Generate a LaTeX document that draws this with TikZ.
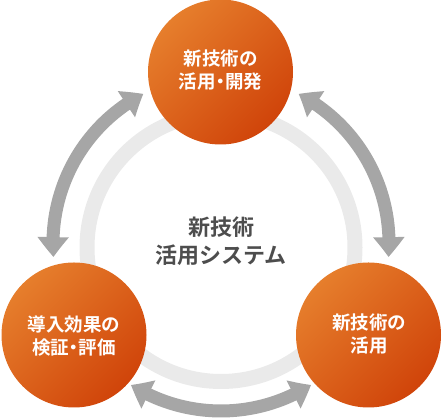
\documentclass[tikz,border=0pt]{standalone}
\usepackage{fontspec}
\newfontfamily\jp{Noto Sans CJK JP}[BoldFont=* Bold]
\usetikzlibrary{arrows.meta,bending}
\definecolor{orL}{HTML}{E67E2C}
\definecolor{orD}{HTML}{D0440A}
\definecolor{arrg}{HTML}{A6A6A6}
\definecolor{ringc}{HTML}{EAEAEA}
\definecolor{textg}{HTML}{4D4D4D}
\newcommand{\jpdot}{\hspace{-.25em}・\hspace{-.25em}}
\tikzset{
  ball/.style={circle, minimum size=145pt, inner sep=0pt, top color=orL, bottom color=orD,
    shading angle=45, text=white, font=\jp\bfseries\fontsize{18.5}{23}\selectfont, align=center},
  ringline/.style={draw=ringc, line width=15pt},
  cyclearrow/.style={draw=arrg, line width=13pt,
    {Triangle[width=30pt,length=20pt,bend]}-{Triangle[width=30pt,length=20pt,bend]}},
  titletext/.style={font=\jp\bfseries\fontsize{22}{28}\selectfont, text=textg, align=center}
}
\begin{document}
\begin{tikzpicture}[x=1pt,y=1pt]
\useasboundingbox (0,0) rectangle (442,419);
\coordinate (rc) at (221,171.5);
\coordinate (ac) at (221,176);
\draw[ringline] (rc) circle[radius=134];
\draw[cyclearrow] ([shift={(184.8:168)}]ac) arc[start angle=184.8, end angle=117.5, radius=168];
\draw[cyclearrow] ([shift={(62.5:168)}]ac) arc[start angle=62.5, end angle=-4.8, radius=168];
\draw[cyclearrow] ([shift={(237.6:168)}]ac) arc[start angle=237.6, end angle=302.4, radius=168];
\node[ball] (top) at (220.5,347) {};
\node[ball] (bl) at (74,84) {};
\node[ball] (br) at (368.5,84) {};
\node[text=white, font=\jp\bfseries\fontsize{18.5}{23}\selectfont, align=center] (toptext) at (220.5,349) {新技術の\\活用\jpdot 開発};
\node[text=white, font=\jp\bfseries\fontsize{18.5}{23}\selectfont, align=center] (bltext) at (74,83) {導入効果の\\検証\jpdot 評価};
\node[text=white, font=\jp\bfseries\fontsize{18.5}{23}\selectfont, align=center] (brtext) at (369,84.5) {新技術の\\活用};
\node[titletext] (title) at (221,178) {新技術\\活用システム};
\end{tikzpicture}
\end{document}
